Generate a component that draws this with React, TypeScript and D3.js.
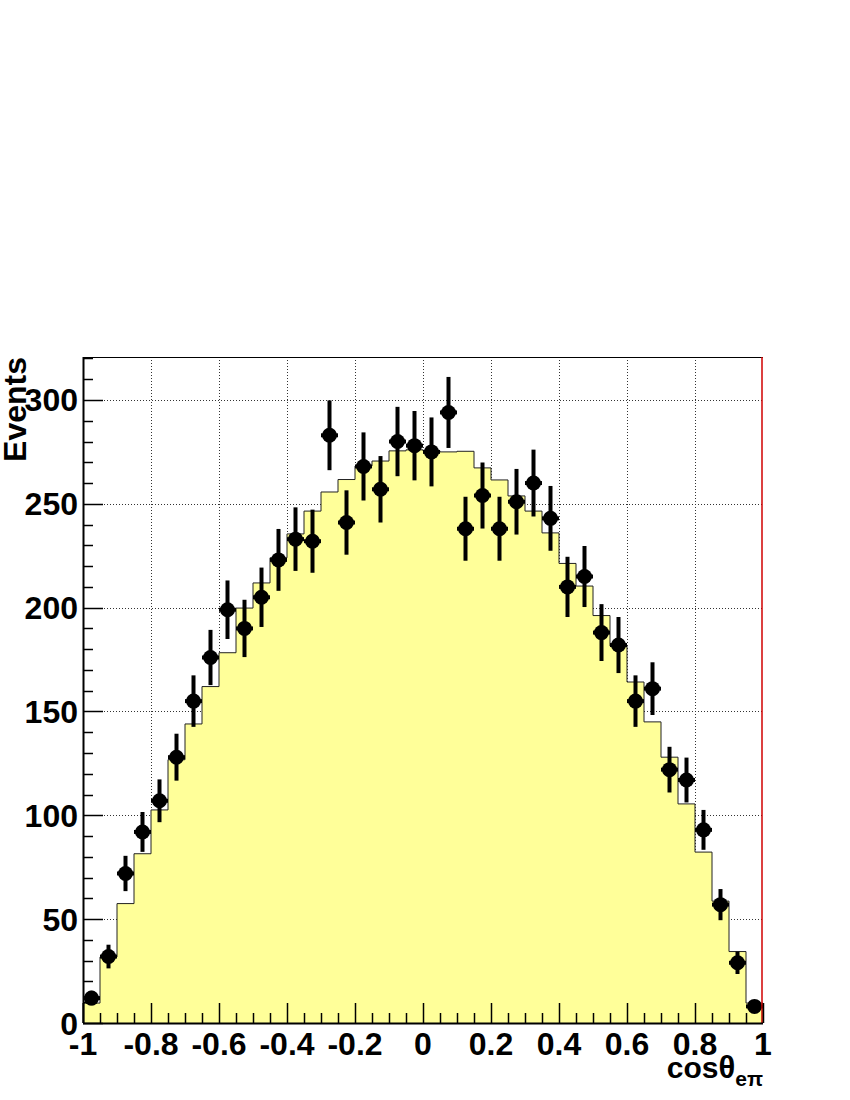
import React from 'react';
import * as d3 from 'd3';

// bin edges: 40 bins of cos(theta) from -1 to 1
const binLow = -1;
const binWidth = 0.05;

// expected distribution (yellow histogram)
const expected = [
  9.6, 31.8, 57.5, 81.5, 102.6, 126.8, 144, 162, 178.3, 199.8,
  211.9, 224, 235.5, 246.5, 255.7, 261.7, 268.2, 270.6, 275.5, 276,
  275.5, 275, 275.3, 267.3, 261.5, 253.8, 246.5, 236, 221.3, 210.4,
  196.2, 181.5, 164.2, 145, 128, 105.5, 82.3, 58.7, 34.4, 9.6,
];

// measured events (black points)
const events = [
  12, 32, 72, 92, 107, 128, 155, 176, 199, 190,
  205, 223, 233, 232, 283, 241, 268, 257, 280, 278,
  275, 294, 238, 254, 238, 251, 260, 243, 210, 215,
  188, 182, 155, 161, 122, 117, 93, 57, 29, 8,
];

// statistical errors
const errors = [
  3.5, 5.7, 8.5, 9.6, 10.3, 11.3, 12.4, 13.3, 14.1, 13.8,
  14.3, 14.9, 15.3, 15.2, 16.8, 15.5, 16.4, 16.0, 16.7, 16.7,
  16.6, 17.1, 15.4, 15.9, 15.4, 15.8, 16.1, 15.6, 14.5, 14.7,
  13.7, 13.5, 12.4, 12.7, 11.0, 10.8, 9.6, 7.5, 5.4, 2.8,
];

const xTickLabels = ['-1', '-0.8', '-0.6', '-0.4', '-0.2', '0', '0.2', '0.4', '0.6', '0.8', '1'];
const yTickLabels = ['0', '50', '100', '150', '200', '250', '300'];

const W = 850;
const H = 1100;
const left = 83;
const right = 763;
const top = 357;
const bottom = 1023;
const font = '"Liberation Sans", Arial, Helvetica, sans-serif';

export default function App() {
  const x = d3.scaleLinear().domain([-1, 1]).range([left, right]);
  const y = d3.scaleLinear().domain([0, 320.7]).range([bottom, top]);

  const edge = (i: number) => binLow + i * binWidth;

  // step outline of the histogram
  const pts: [number, number][] = [[x(-1), y(0)]];
  expected.forEach((v, i) => {
    pts.push([x(edge(i)), y(v)]);
    pts.push([x(edge(i + 1)), y(v)]);
  });
  pts.push([x(1), y(0)]);
  const histPath = d3.line()(pts) as string;

  const gridX = xTickLabels.map((t) => +t).filter((v) => v > -1 && v < 1);
  const gridY = yTickLabels.map((t) => +t).filter((v) => v > 0);

  const minorX = d3.range(0, 41).map((i) => edge(i));
  const minorY = d3.range(0, 321, 10);

  return (
    <svg width={W} height={H} style={{ position: 'absolute', left: 0, top: 0, background: '#fff' }}>
      {/* grid */}
      <g stroke="#333" strokeWidth={1} strokeDasharray="1,2">
        {gridX.map((v) => (
          <line key={'gx' + v} x1={Math.round(x(v)) + 0.5} x2={Math.round(x(v)) + 0.5} y1={top} y2={bottom} />
        ))}
        {gridY.map((v) => (
          <line key={'gy' + v} x1={left} x2={right} y1={Math.round(y(v)) + 0.5} y2={Math.round(y(v)) + 0.5} />
        ))}
      </g>

      {/* histogram */}
      <path d={histPath} fill="#ffff99" stroke="#222" strokeWidth={1} />

      {/* data points with error bars */}
      <g fill="#000" stroke="#000">
        {events.map((v, i) => {
          const cx = x(edge(i) + binWidth / 2);
          const cy = y(v);
          return (
            <g key={'p' + i}>
              <line x1={cx} x2={cx} y1={y(v - errors[i])} y2={y(v + errors[i])} strokeWidth={4} />
              <line x1={x(edge(i))} x2={x(edge(i + 1))} y1={cy} y2={cy} strokeWidth={4} />
              <circle cx={cx} cy={cy} r={7.5} stroke="none" />
            </g>
          );
        })}
      </g>

      {/* frame */}
      <line x1={left} x2={right} y1={top + 0.5} y2={top + 0.5} stroke="#000" strokeWidth={1} />
      <line x1={right - 1} x2={right - 1} y1={top} y2={bottom} stroke="#d00000" strokeWidth={1.5} />

      {/* y axis */}
      <g stroke="#000" strokeWidth={1}>
        <line x1={left + 0.5} x2={left + 0.5} y1={top} y2={bottom} strokeWidth={2} />
        {minorY.map((v) => (
          <line key={'my' + v} x1={left} x2={left + (v % 50 === 0 ? 20 : 10)} y1={Math.round(y(v)) + 0.5} y2={Math.round(y(v)) + 0.5} strokeWidth={1.5} />
        ))}
      </g>
      <g fontFamily={font} fontWeight="bold" fontSize={32} textAnchor="end" fill="#000">
        {yTickLabels.map((t) => (
          <text key={'yl' + t} x={left - 5} y={y(+t) + 11.5}>
            {t}
          </text>
        ))}
      </g>

      {/* x axis */}
      <g stroke="#000">
        <line x1={left} x2={right} y1={bottom + 0.5} y2={bottom + 0.5} strokeWidth={2} />
        {minorX.map((v, i) => (
          <line key={'mx' + i} x1={Math.round(x(v)) + 0.5} x2={Math.round(x(v)) + 0.5} y1={bottom} y2={bottom - (i % 4 === 0 ? 20 : 10)} strokeWidth={1.5} />
        ))}
      </g>
      <g fontFamily={font} fontWeight="bold" fontSize={32} textAnchor="middle" fill="#000">
        {xTickLabels.map((t) => (
          <text key={'xl' + t} x={x(+t)} y={1055}>
            {t}
          </text>
        ))}
      </g>

      {/* axis titles */}
      <text
        transform={`translate(26,${top}) rotate(-90)`}
        textAnchor="end"
        fontFamily={font}
        fontWeight="bold"
        fontSize={32}
        fill="#000"
      >
        Events
      </text>
      <text x={right} y={1078} textAnchor="end" fontFamily={font} fontWeight="bold" fontSize={30} fill="#000">
        cos
        <tspan fontSize={31}>θ</tspan>
        <tspan fontSize={21} dy={8}>eπ</tspan>
      </text>
    </svg>
  );
}
